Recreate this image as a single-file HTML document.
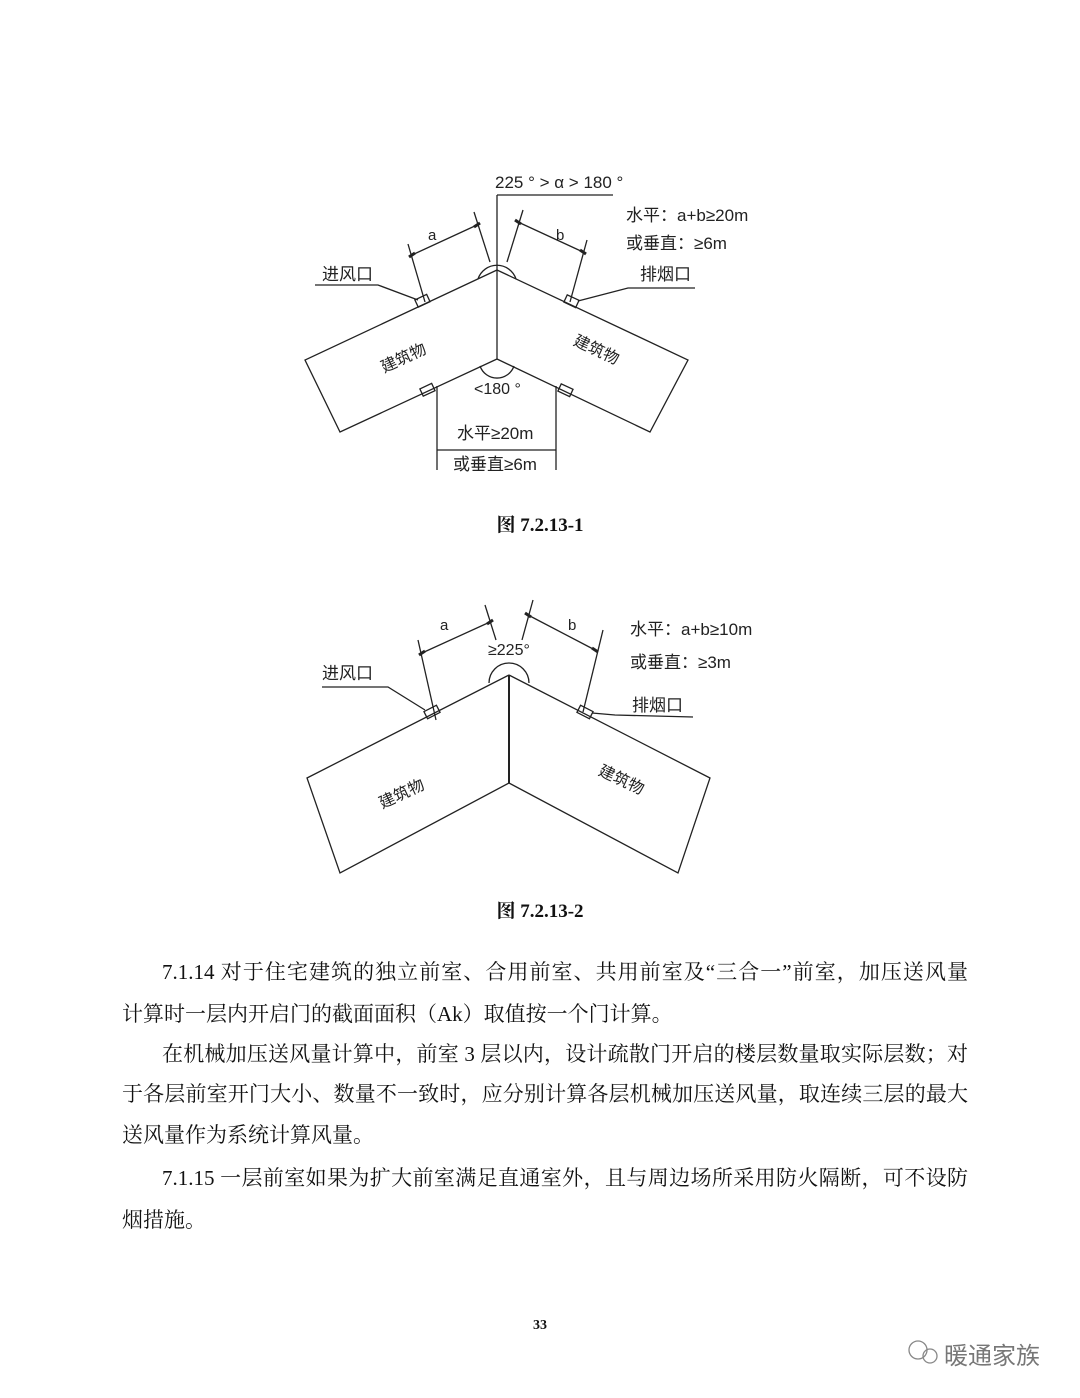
<!DOCTYPE html>
<html><head><meta charset="utf-8"><style>
body{margin:0;width:1080px;height:1398px;background:#fff;position:relative;overflow:hidden;font-family:"Liberation Serif","Noto Serif CJK SC",serif;color:#111}
.l{position:absolute;font-size:21px;white-space:nowrap;line-height:24px}
.j{text-align:justify;text-align-last:justify;white-space:normal}
.cap{position:absolute;font-weight:bold;font-size:19px;width:1080px;text-align:center}
svg text{font-family:"Liberation Sans","Noto Sans CJK SC",sans-serif;fill:#222}
</style></head><body>
<svg width="1080" height="1398" style="position:absolute;left:0;top:0" stroke="#222" stroke-width="1.3" fill="none">
<!-- Figure 1 -->
<polyline points="497,270 305,360 340,432 497,359 650,432 688,360 497,270"/>
<line x1="497" y1="195" x2="497" y2="359"/>
<line x1="497" y1="195" x2="613" y2="195"/>
<path d="M478,279 A20,20 0 0 1 516,279"/>
<path d="M480,366 A18,18 0 0 0 514,366"/>
<!-- dims a/b -->
<line x1="412" y1="255" x2="477" y2="225"/><line x1="408" y1="244" x2="425" y2="302"/><line x1="474" y1="212" x2="490" y2="262"/>
<line x1="518" y1="222" x2="583" y2="252"/><line x1="523" y1="210" x2="507" y2="262"/><line x1="587" y1="240" x2="570" y2="302"/>
<g stroke-width="3"><line x1="409" y1="257" x2="415" y2="253"/><line x1="474" y1="227" x2="480" y2="223"/><line x1="515" y1="220" x2="521" y2="224"/><line x1="580" y1="250" x2="586" y2="254"/></g>
<!-- windows -->
<rect x="416" y="297" width="13" height="8" transform="rotate(-25 422 301)"/>
<rect x="565" y="297" width="13" height="8" transform="rotate(25 571 301)"/>
<rect x="421" y="386" width="13" height="8" transform="rotate(-25 427 390)"/>
<rect x="559" y="386" width="13" height="8" transform="rotate(25 565 390)"/>
<polyline points="315,285 378,285 418,300"/>
<polyline points="695,288 628,288 578,301"/>
<line x1="437" y1="386" x2="437" y2="470"/><line x1="556" y1="386" x2="556" y2="470"/>
<line x1="437" y1="450" x2="556" y2="450"/>
<text x="495" y="188" font-size="17" stroke="none">225 ° &gt; α &gt; 180 °</text>
<text x="626" y="221" font-size="17" stroke="none">水平：a+b≥20m</text>
<text x="626" y="249" font-size="17" stroke="none">或垂直：≥6m</text>
<text x="428" y="240" font-size="15" stroke="none">a</text>
<text x="556" y="240" font-size="15" stroke="none">b</text>
<text x="322" y="280" font-size="17" stroke="none">进风口</text>
<text x="640" y="280" font-size="17" stroke="none">排烟口</text>
<text x="380" y="365" font-size="16" stroke="none" transform="rotate(-25 400 360)">建筑物</text>
<text x="570" y="355" font-size="16" stroke="none" transform="rotate(25 595 355)">建筑物</text>
<text x="474" y="394" font-size="16" stroke="none">&lt;180 °</text>
<text x="457" y="439" font-size="17" stroke="none">水平≥20m</text>
<text x="453" y="470" font-size="17" stroke="none">或垂直≥6m</text>
<!-- Figure 2 -->
<polyline points="509,675 307,778 340,873 509,783 678,873 710,778 509,675"/>
<line x1="509" y1="675" x2="509" y2="783" stroke-width="2"/>
<path d="M489,683 A20,20 0 0 1 529,683"/>
<line x1="422" y1="653" x2="490" y2="622"/><line x1="418" y1="640" x2="436" y2="720"/><line x1="485" y1="605" x2="496" y2="640"/>
<line x1="528" y1="615" x2="595" y2="650"/><line x1="533" y1="600" x2="522" y2="640"/><line x1="603" y1="630" x2="583" y2="712"/>
<g stroke-width="3"><line x1="419" y1="655" x2="425" y2="651"/><line x1="487" y1="624" x2="493" y2="620"/><line x1="525" y1="613" x2="531" y2="617"/><line x1="592" y1="648" x2="598" y2="652"/></g>
<rect x="425" y="708" width="14" height="8" transform="rotate(-27 432 712)"/>
<rect x="578" y="708" width="14" height="8" transform="rotate(27 585 712)"/>
<polyline points="322,687 388,687 425,710"/>
<polyline points="693,717 615,715 592,713"/>
<text x="440" y="630" font-size="15" stroke="none">a</text>
<text x="568" y="630" font-size="15" stroke="none">b</text>
<text x="488" y="655" font-size="16" stroke="none">≥225°</text>
<text x="630" y="635" font-size="17" stroke="none">水平：a+b≥10m</text>
<text x="630" y="668" font-size="17" stroke="none">或垂直：≥3m</text>
<text x="632" y="711" font-size="17" stroke="none">排烟口</text>
<text x="322" y="679" font-size="17" stroke="none">进风口</text>
<text x="378" y="800" font-size="16" stroke="none" transform="rotate(-25 400 795)">建筑物</text>
<text x="595" y="785" font-size="16" stroke="none" transform="rotate(25 620 785)">建筑物</text>
<!-- watermark icon -->
<circle cx="918" cy="1350" r="9" stroke="#888"/><circle cx="930" cy="1356" r="7" stroke="#888"/>
</svg>
<div class="cap" style="top:510px">图 7.2.13-1</div>
<div class="cap" style="top:896px">图 7.2.13-2</div>
<div class="l j" style="left:162px;top:960px;width:806px">7.1.14 对于住宅建筑的独立前室、合用前室、共用前室及“三合一”前室，加压送风量</div>
<div class="l" style="left:122px;top:1002px">计算时一层内开启门的截面面积（Ak）取值按一个门计算。</div>
<div class="l j" style="left:162px;top:1042px;width:806px">在机械加压送风量计算中，前室 3 层以内，设计疏散门开启的楼层数量取实际层数；对</div>
<div class="l j" style="left:122px;top:1082px;width:846px">于各层前室开门大小、数量不一致时，应分别计算各层机械加压送风量，取连续三层的最大</div>
<div class="l" style="left:122px;top:1123px">送风量作为系统计算风量。</div>
<div class="l j" style="left:162px;top:1166px;width:806px">7.1.15 一层前室如果为扩大前室满足直通室外，且与周边场所采用防火隔断，可不设防</div>
<div class="l" style="left:122px;top:1208px">烟措施。</div>
<div style="position:absolute;top:1318px;width:1080px;text-align:center;font-size:14px;font-weight:bold">33</div>
<div style="position:absolute;left:944px;top:1336px;font-size:24px;color:#777;font-family:'Liberation Sans','Noto Sans CJK SC',sans-serif">暖通家族</div>
</body></html>
